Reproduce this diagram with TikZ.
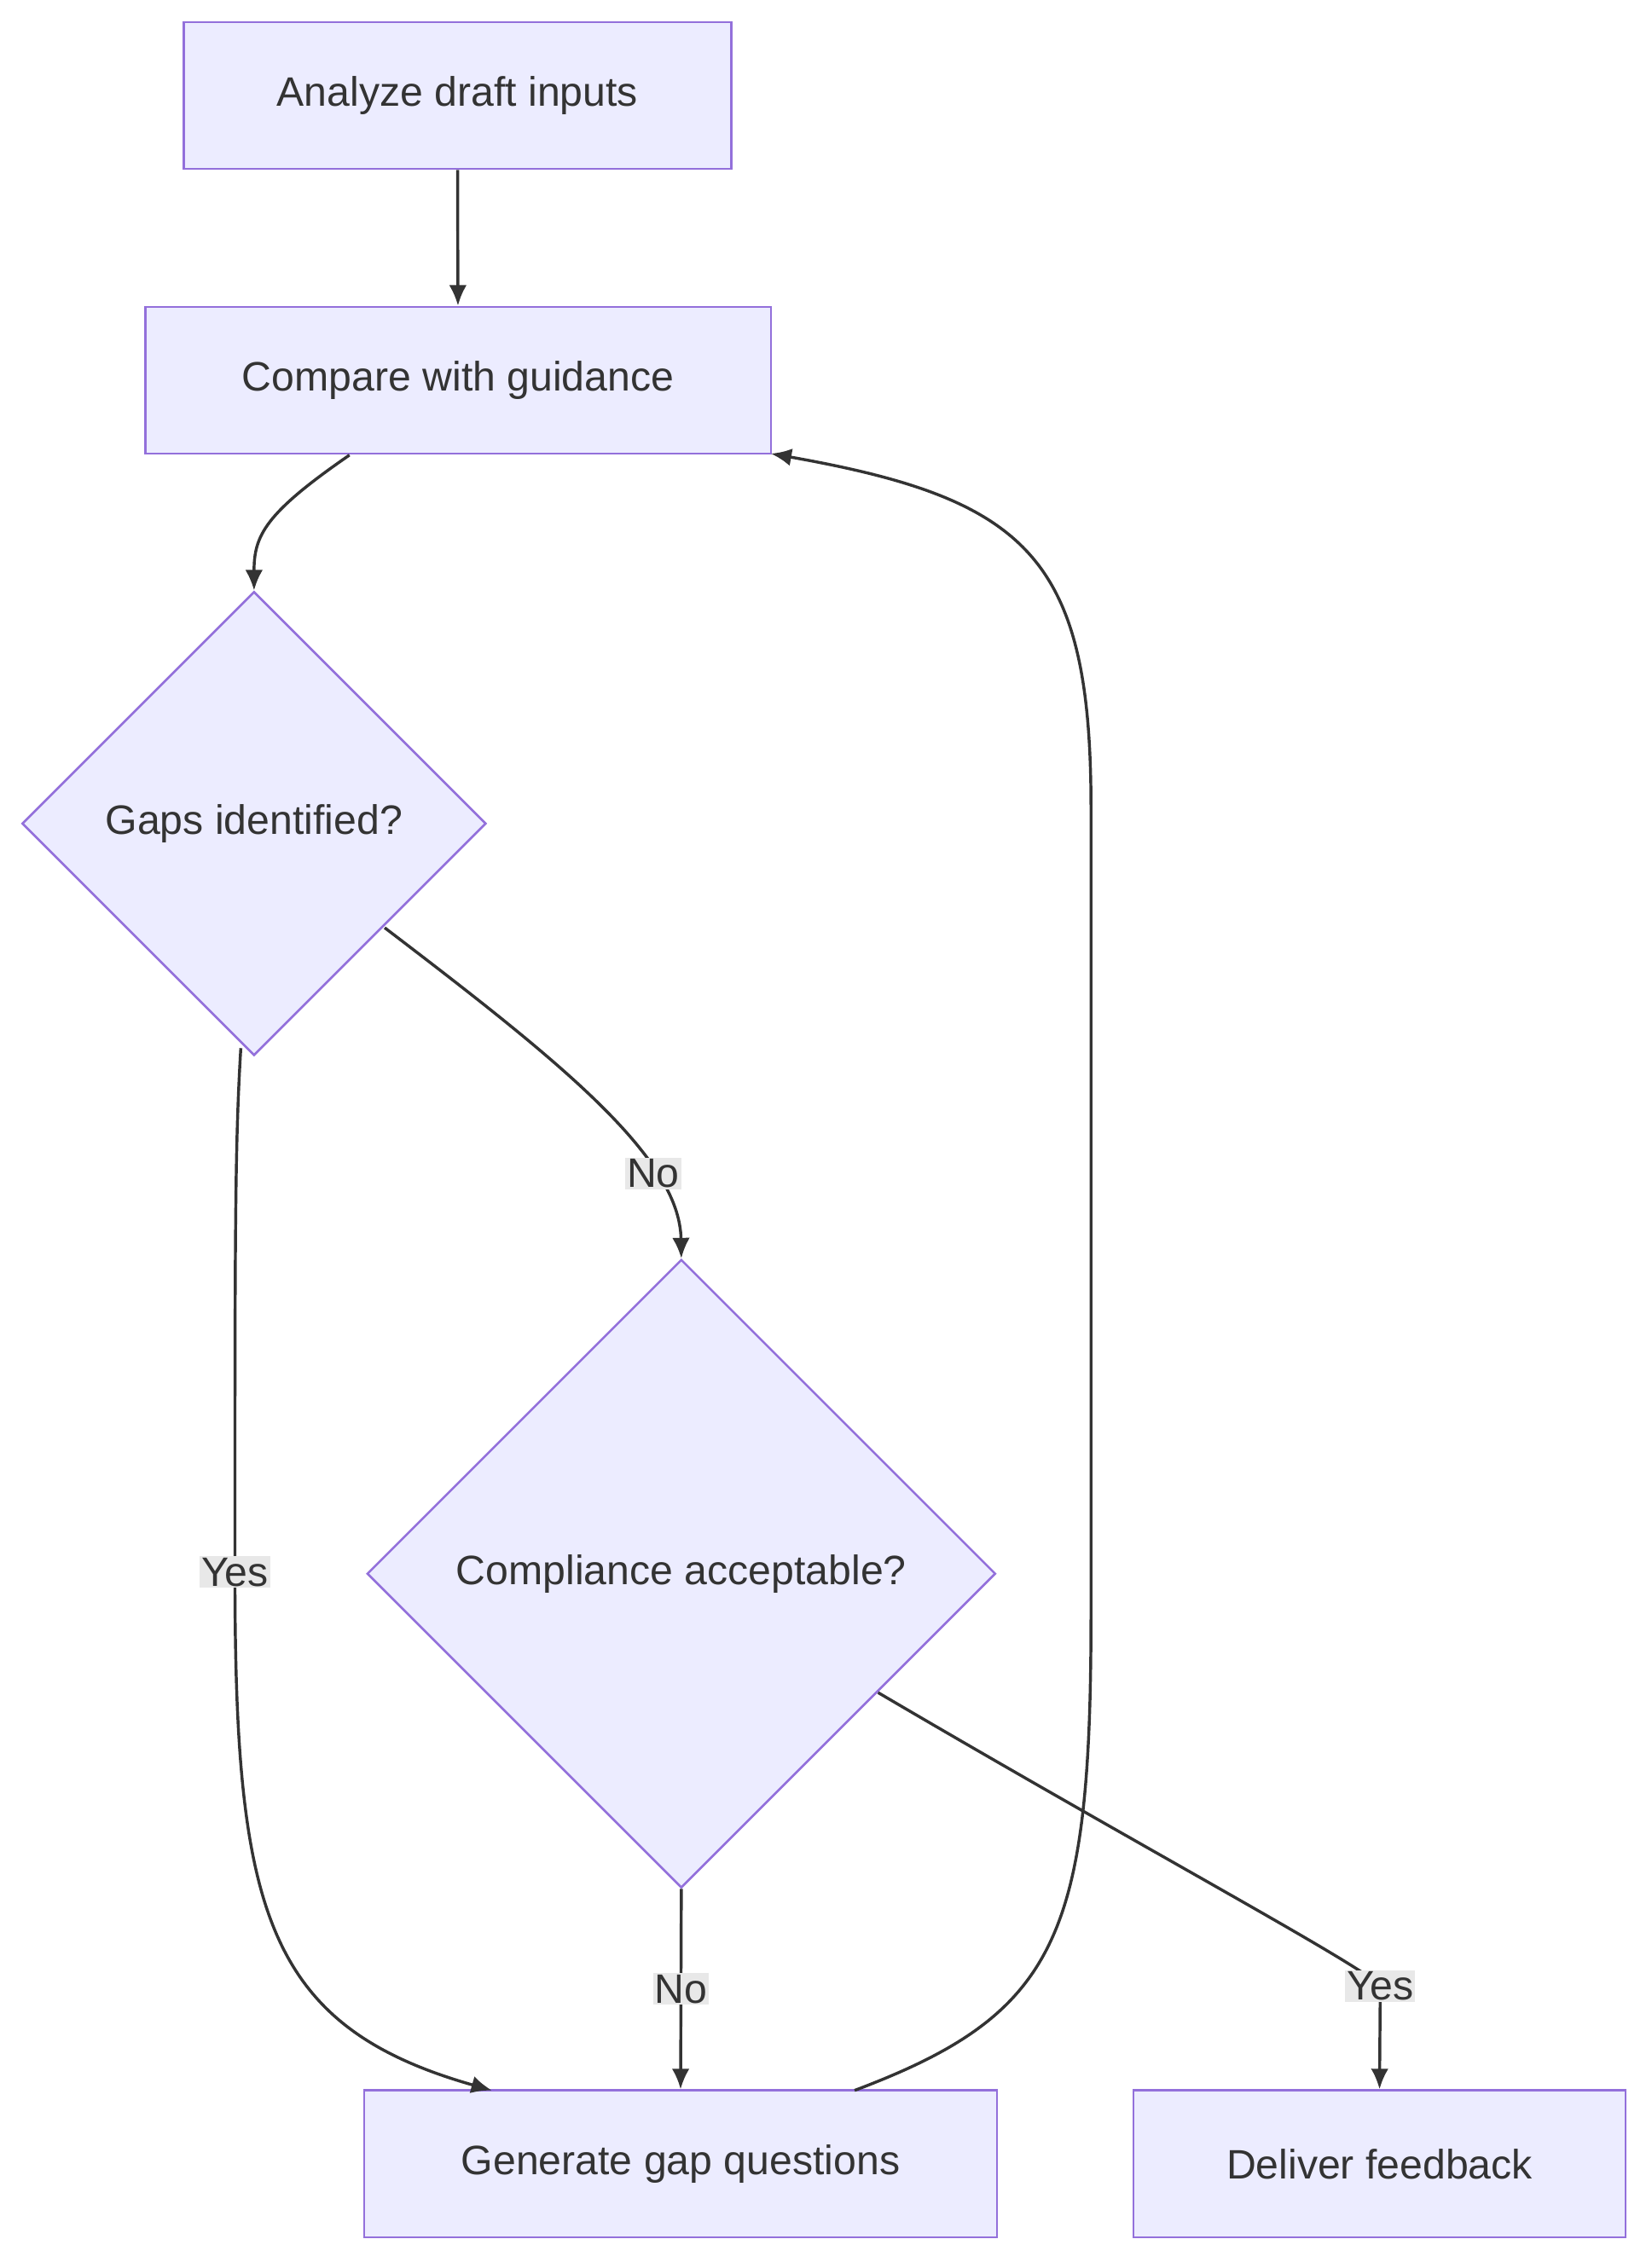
\documentclass[tikz,border=0pt]{standalone}
\usepackage{fontspec}
\setmainfont{Liberation Sans}
\usetikzlibrary{shapes.geometric,arrows.meta}
\definecolor{nfill}{HTML}{ECECFF}
\definecolor{nline}{HTML}{9370DB}
\definecolor{eline}{HTML}{333333}
\definecolor{lfill}{HTML}{E8E8E8}
\definecolor{txt}{HTML}{333333}
\begin{document}
\begin{tikzpicture}[x=1pt,y=-1pt,
  box/.style={draw=nline,fill=nfill,line width=1.5pt,minimum height=100pt,font=\fontsize{28}{32}\selectfont,text=txt},
  dia/.style={draw=nline,fill=nfill,line width=1.5pt,diamond,inner sep=0pt,font=\fontsize{28}{32}\selectfont,text=txt},
  edge/.style={draw=eline,line width=2pt,-{Latex[length=14pt,width=12pt]}},
  lab/.style={fill=lfill,inner sep=1pt,font=\fontsize{28}{32}\selectfont,text=txt}]
\useasboundingbox[fill=white] (0,0) rectangle (1125,1545);
\node[box,minimum width=373pt] (A) at (311.5,65) {Analyze draft inputs};
\node[box,minimum width=426pt] (B) at (312,259) {Compare with guidance};
\node[dia,minimum width=316pt,minimum height=316pt] (C) at (173,561) {Gaps identified?};
\node[dia,minimum width=428pt,minimum height=428pt] (D) at (464,1072) {Compliance acceptable?};
\node[box,minimum width=431pt] (E) at (463.5,1474) {Generate gap questions};
\node[box,minimum width=335pt] (F) at (939.5,1474) {Deliver feedback};
\draw[edge] (A) -- (B);
\draw[edge] (238,310) .. controls (180,350) and (173,365) .. (C.north);
\draw[edge] (262,632) .. controls (380,722) and (463,788) .. node[lab,pos=0.72]{No} (D.north);
\draw[edge] (164,714) .. controls (160,780) and (160,840) .. (160,1071) node[lab]{Yes}
  .. controls (160,1300) and (180,1380) .. (335,1424);
\draw[edge] (D.south) -- node[lab]{No} (E.north);
\draw[edge] (598,1153) .. controls (780,1260) and (930,1340) .. (940,1353) node[lab]{Yes} -- (F.north);
\draw[edge] (582,1424) .. controls (720,1372) and (743,1320) .. (743,1100) -- (743,550)
  .. controls (743,380) and (700,340) .. (525,309);
\end{tikzpicture}
\end{document}
